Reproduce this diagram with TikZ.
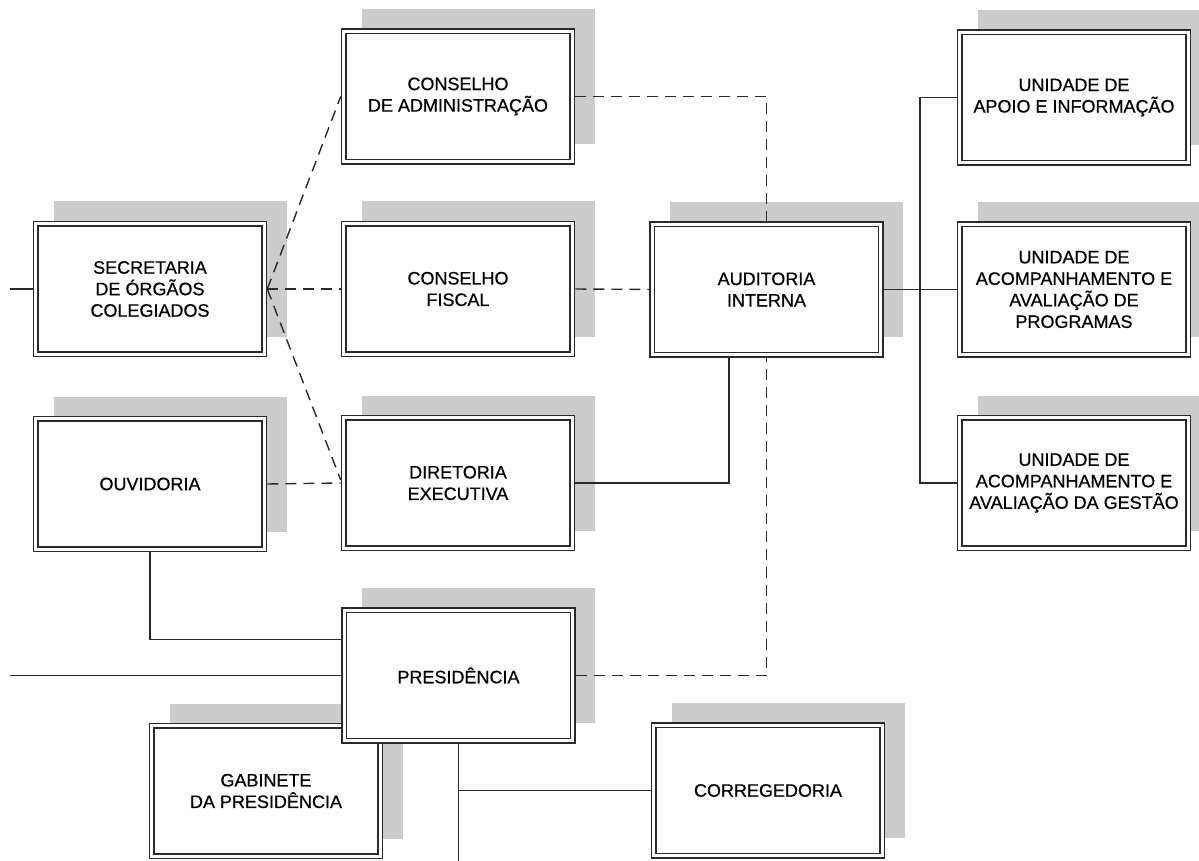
\documentclass[tikz,border=0pt]{standalone}
\usepackage{fontspec}
\setmainfont[FakeBold=0.6]{Liberation Sans}
\usetikzlibrary{shadows,calc}
\definecolor{ln}{HTML}{2A2A2A}
\definecolor{sh}{HTML}{CCCCCC}
\begin{document}
\begin{tikzpicture}[x=1pt,y=-1pt,
  orgbox/.style={draw=ln, line width=1.6pt, fill=white,
    minimum width=233pt, minimum height=135pt, inner sep=2pt,
    align=center, font=\fontsize{18}{21.5}\selectfont,
    drop shadow={shadow xshift=20pt, shadow yshift=20pt, fill=sh, opacity=1},
    path picture={\draw[ln, line width=1.1pt]
      ([shift={(4.5pt,-4.5pt)}]path picture bounding box.north west) rectangle
      ([shift={(-4.5pt,4.5pt)}]path picture bounding box.south east);}},
  conn/.style={draw=ln, line width=1.4pt},
  dconn/.style={conn, dash pattern=on 11pt off 7pt}]
\useasboundingbox[fill=white] (0,0) rectangle (1199,861);

\node[orgbox] (adm) at (458,96.5) {CONSELHO\\DE ADMINISTRAÇÃO};
\node[orgbox] (u1) at (1074,97.5) {UNIDADE DE\\APOIO E INFORMAÇÃO};
\node[orgbox] (sec) at (150,289) {SECRETARIA\\DE ÓRGÃOS\\COLEGIADOS};
\node[orgbox] (fis) at (458,289) {CONSELHO\\FISCAL};
\node[orgbox] (aud) at (766.5,289.5) {AUDITORIA\\INTERNA};
\node[orgbox] (u2) at (1074,289.5) {UNIDADE DE\\ACOMPANHAMENTO E\\AVALIAÇÃO DE\\PROGRAMAS};
\node[orgbox] (ouv) at (150,484) {OUVIDORIA};
\node[orgbox] (dir) at (458,483) {DIRETORIA\\EXECUTIVA};
\node[orgbox] (u3) at (1074,483) {UNIDADE DE\\ACOMPANHAMENTO E\\AVALIAÇÃO DA GESTÃO};
\node[orgbox] (gab) at (266,791) {GABINETE\\DA PRESIDÊNCIA};
\node[orgbox] (pres) at (458.5,675.5) {PRESIDÊNCIA};
\node[orgbox] (corr) at (768,790.5) {CORREGEDORIA};

\coordinate (lin1) at (10,289);
\coordinate (lin2) at (10,675.5);
\coordinate (bus) at (920,289.5);
\coordinate (bot) at (458.5,861);

\draw[conn] (lin1) -- (sec.west);
\draw[dconn] (sec.east) -- (fis.west);
\draw[dconn] (sec.east) -- (adm.west);
\draw[dconn] (sec.east) -- ([yshift=3pt]dir.west);
\draw[dconn] (ouv.east) -- (dir.west);
\draw[dconn] (fis.east) -- (aud.west);
\draw[dconn] (adm.east) -| (aud.north);
\draw[conn] (dir.east) -| ([xshift=-37.5pt]aud.south);
\draw[dconn] (pres.east) -| (aud.south);
\draw[conn] (aud.east) -- (bus);
\draw[conn] (u1.west) -| (bus) |- (u3.west);
\draw[conn] (bus) -- (u2.west);
\draw[conn] (ouv.south) |- ([yshift=36pt]pres.west);
\draw[conn] (lin2) -- (pres.west);
\draw[conn] (pres.south) -- (bot);
\draw[conn] (corr.west) -| (pres.south);
\end{tikzpicture}
\end{document}
